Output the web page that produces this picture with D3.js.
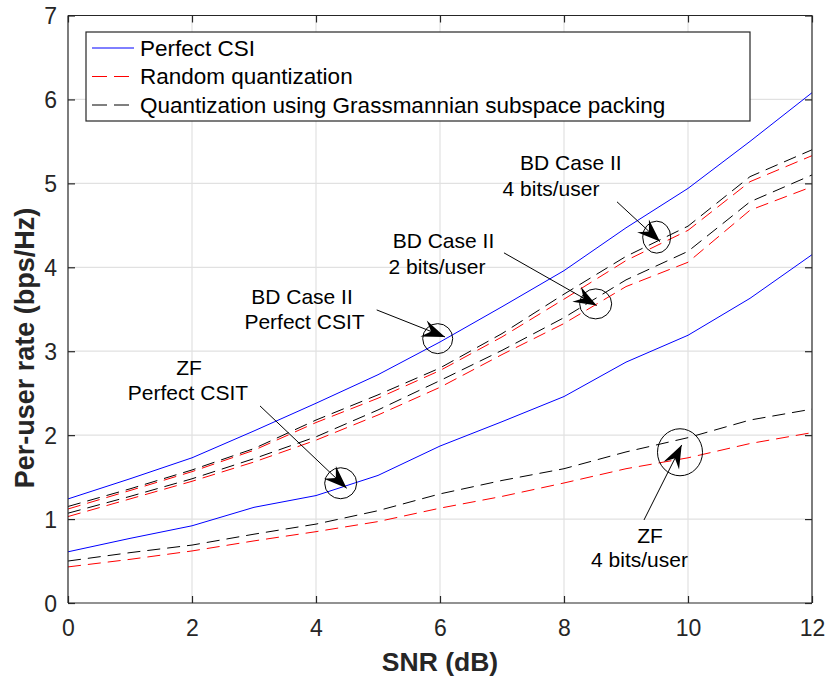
<!DOCTYPE html>
<html><head><meta charset="utf-8">
<script src="https://cdnjs.cloudflare.com/ajax/libs/d3/7.8.5/d3.min.js"></script>
<style>
html,body{margin:0;padding:0;background:#fff;}
svg{display:block;font-family:"Liberation Sans",Arial,Helvetica,sans-serif;}
</style></head><body>
<svg id="c" width="827" height="682"></svg>
<script>
// ---- data ----
const snr = [0,1,2,3,4,5,6,7,8,9,10,11,12];
const bdPerfect   = [1.24,1.48,1.73,2.05,2.38,2.72,3.11,3.53,3.96,4.47,4.94,5.50,6.08];
const zfPerfect   = [0.61,0.77,0.92,1.14,1.28,1.52,1.87,2.16,2.46,2.87,3.19,3.63,4.15];
const bd4Grass    = [1.15,1.36,1.585,1.84,2.18,2.48,2.80,3.21,3.68,4.13,4.49,5.08,5.40];
const bd4Random   = [1.12,1.34,1.565,1.82,2.15,2.44,2.77,3.17,3.62,4.08,4.44,5.02,5.33];
const bd2Grass    = [1.07,1.27,1.48,1.72,1.98,2.30,2.65,3.01,3.40,3.85,4.19,4.78,5.10];
const bd2Random   = [1.03,1.24,1.45,1.68,1.94,2.24,2.57,2.96,3.33,3.77,4.06,4.68,4.96];
const zfGrass     = [0.50,0.60,0.69,0.82,0.94,1.10,1.30,1.46,1.60,1.80,1.97,2.18,2.31];
const zfRandom    = [0.43,0.52,0.62,0.74,0.85,0.97,1.13,1.27,1.43,1.60,1.73,1.90,2.03];
const xTicks = [0,2,4,6,8,10,12];
const yTicks = [0,1,2,3,4,5,6,7];
const legendLabels = ["Perfect CSI","Random quantization","Quantization using Grassmannian subspace packing"];
const xLabel = "SNR (dB)";
const yLabel = "Per-user rate (bps/Hz)";
// annotations: text lines (data coords), arrow start/tip, circle center
const annotations = [
  {lines:[["BD Case II",8.11,5.244],["4 bits/user",7.79,4.934]], from:[8.855,4.78], to:[9.548,4.306], c:[9.495,4.359], rx:14, ry:16},
  {lines:[["BD Case II",6.056,4.315],["2 bits/user",5.952,4.005]], from:[7.032,4.172], to:[8.527,3.544], c:[8.511,3.564], rx:16, ry:15},
  {lines:[["BD Case II",3.774,3.647],["Perfect CSIT",3.815,3.349]], from:[4.979,3.492], to:[6.081,3.170], c:[5.963,3.150], rx:15, ry:15},
  {lines:[["ZF",1.952,2.801],["Perfect CSIT",1.935,2.503]], from:[3.097,2.348], to:[4.495,1.367], c:[4.398,1.427], rx:16, ry:15.5},
  {lines:[["ZF",9.387,0.810],["4 bits/user",9.218,0.513]], from:[9.29,0.989], to:[9.898,1.883], c:[9.871,1.796], rx:22.5, ry:23.5}
];

// ---- layout ----
const svg = d3.select("#c");
const m = {l:68, r:15, t:15.5, b:79};
const W = 827, H = 682;
const x = d3.scaleLinear().domain([0,12]).range([m.l, W-m.r]);
const y = d3.scaleLinear().domain([0,7]).range([H-m.b, m.t]);
const axisCol = "#262626";

// grid
const g = svg.append("g");
g.selectAll(".gx").data(xTicks.slice(1,-1)).enter().append("line")
  .attr("x1",d=>x(d)).attr("x2",d=>x(d)).attr("y1",y(0)).attr("y2",y(7))
  .attr("stroke","#e1e1e1").attr("stroke-width",1.2);
g.selectAll(".gy").data(yTicks.slice(1,-1)).enter().append("line")
  .attr("y1",d=>y(d)).attr("y2",d=>y(d)).attr("x1",x(0)).attr("x2",x(12))
  .attr("stroke","#e1e1e1").attr("stroke-width",1.2);

// curves
const line = d3.line().x((d,i)=>x(snr[i])).y(d=>y(d));
const series = [
  {v:bdPerfect, c:"#0000ff", dash:null},
  {v:zfPerfect, c:"#0000ff", dash:null},
  {v:bd4Grass, c:"#000000", dash:"13,7"},
  {v:bd4Random, c:"#ff0000", dash:"13,7"},
  {v:bd2Grass, c:"#000000", dash:"13,7"},
  {v:bd2Random, c:"#ff0000", dash:"13,7"},
  {v:zfGrass, c:"#000000", dash:"13,7"},
  {v:zfRandom, c:"#ff0000", dash:"13,7"}
];
svg.append("g").selectAll("path").data(series).enter().append("path")
  .attr("d",d=>line(d.v)).attr("fill","none").attr("stroke",d=>d.c)
  .attr("stroke-width",1).attr("stroke-dasharray",d=>d.dash);

// axes box + ticks
const ax = svg.append("g");
const fmt = d3.format("d");
const axB = d3.axisBottom(x).tickValues(xTicks).tickSize(-7).tickFormat(fmt).tickPadding(14);
const axT = d3.axisTop(x).tickValues(xTicks).tickSize(-7).tickFormat("");
const axL = d3.axisLeft(y).tickValues(yTicks).tickSize(-7).tickFormat(fmt).tickPadding(18);
const axR = d3.axisRight(y).tickValues(yTicks).tickSize(-7).tickFormat("");
function style(sel){
  sel.selectAll("path").attr("stroke",axisCol).attr("stroke-width",1.2);
  sel.selectAll("line").attr("stroke",axisCol).attr("stroke-width",1.2);
  sel.selectAll("text").attr("fill",axisCol).style("font-size","23px").style("font-family","'Liberation Sans',Arial,sans-serif");
}
const gB = ax.append("g").attr("transform",`translate(0,${y(0)})`).call(axB).call(style);
gB.select(".domain").attr("d",`M${x(0)},0H${x(12)}`);
gB.selectAll("text").attr("dy",null).attr("y",16).attr("dominant-baseline","hanging");
const gT = ax.append("g").attr("transform",`translate(0,${y(7)})`).call(axT).call(style);
gT.select(".domain").attr("d",`M${x(0)},0H${x(12)}`);
const gL = ax.append("g").attr("transform",`translate(${x(0)},0)`).call(axL).call(style);
gL.select(".domain").attr("d",`M0,${y(0)}V${y(7)}`);
gL.selectAll("text").attr("dy",null).attr("x",-11).attr("dominant-baseline","central");
const gR = ax.append("g").attr("transform",`translate(${x(12)},0)`).call(axR).call(style);
gR.select(".domain").attr("d",`M0,${y(0)}V${y(7)}`);

// axis labels
svg.append("text").attr("x",(x(0)+x(12))/2).attr("y",662).attr("text-anchor","middle")
  .attr("dominant-baseline","central").attr("fill",axisCol)
  .style("font-size","26.5px").style("font-weight","bold").text(xLabel);
svg.append("text").attr("transform",`translate(25,348) rotate(-90)`).attr("text-anchor","middle")
  .attr("dominant-baseline","central").attr("fill",axisCol)
  .style("font-size","27px").style("font-weight","bold").text(yLabel);

// legend
const lg = svg.append("g");
lg.append("rect").attr("x",86).attr("y",32).attr("width",664).attr("height",89)
  .attr("fill","#fff").attr("stroke","#262626").attr("stroke-width",1.2);
const legItems = [{c:"#0000ff",dash:null},{c:"#ff0000",dash:"15,7"},{c:"#000000",dash:"15,7"}];
legItems.forEach((it,i)=>{
  const yy = 48 + i*28.5;
  lg.append("line").attr("x1",92).attr("x2",134).attr("y1",yy).attr("y2",yy)
    .attr("stroke",it.c).attr("stroke-width",1).attr("stroke-dasharray",it.dash);
  lg.append("text").attr("x",140).attr("y",yy).attr("dominant-baseline","central")
    .style("font-size","22.5px").attr("fill","#000").text(legendLabels[i]);
});

// annotations
const defs = svg.append("defs");
defs.append("marker").attr("id","ah").attr("markerUnits","userSpaceOnUse")
  .attr("markerWidth",30).attr("markerHeight",30).attr("viewBox","-24 -12 26 24")
  .attr("refX",0).attr("refY",0).attr("orient","auto")
  .append("path").attr("d","M0,0 L-20,-7.5 L-13,0 L-20,7.5 Z").attr("fill","#000");
const an = svg.append("g");
annotations.forEach(a=>{
  an.append("ellipse").attr("cx",x(a.c[0])).attr("cy",y(a.c[1])).attr("rx",a.rx).attr("ry",a.ry)
    .attr("fill","none").attr("stroke","#000").attr("stroke-width",1);
  an.append("line").attr("x1",x(a.from[0])).attr("y1",y(a.from[1])).attr("x2",x(a.to[0])).attr("y2",y(a.to[1]))
    .attr("stroke","#000").attr("stroke-width",1).attr("marker-end","url(#ah)");
  a.lines.forEach(l=>{
    an.append("text").attr("x",x(l[1])).attr("y",y(l[2])).attr("text-anchor","middle")
      .attr("dominant-baseline","central").style("font-size","21px").attr("fill","#000").text(l[0]);
  });
});
</script>
</body></html>
